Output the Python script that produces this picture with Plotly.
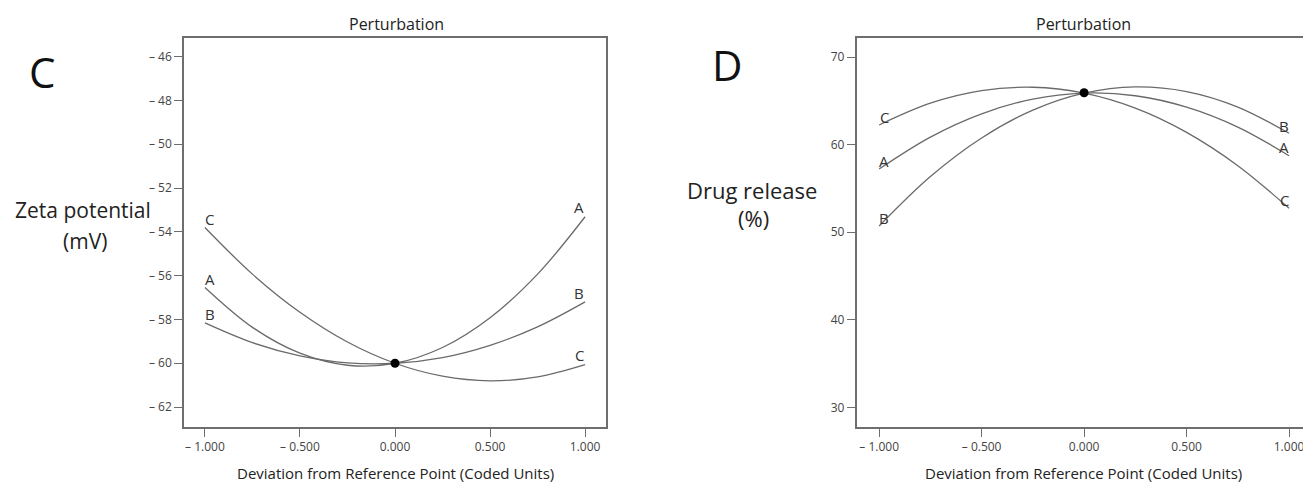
import plotly.graph_objects as go

W, H = 1303, 484

# ---------------- data ----------------
x_pts = [-1.0, -0.75, -0.5, -0.25, 0.0, 0.25, 0.5, 0.75, 1.0]

# Panel C: Zeta potential (mV)
zeta_A = [-56.54, -58.36, -59.54, -60.09, -60.0, -59.28, -57.92, -55.93, -53.31]
zeta_B = [-58.16, -59.06, -59.66, -59.98, -60.0, -59.74, -59.18, -58.34, -57.20]
zeta_C = [-53.80, -55.93, -57.67, -59.03, -60.0, -60.59, -60.80, -60.62, -60.06]
zeta_ref = -60.0

# Panel D: Drug release (%)
rel_A = [57.23, 60.88, 63.54, 65.22, 65.9, 65.60, 64.30, 62.02, 58.75]
rel_B = [50.72, 56.37, 60.78, 63.96, 65.9, 66.61, 66.08, 64.31, 61.31]
rel_C = [62.26, 64.75, 66.18, 66.57, 65.9, 64.19, 61.42, 57.61, 52.74]
rel_ref = 65.95

x_tickvals = [-1.0, -0.5, 0.0, 0.5, 1.0]
x_ticktext = ["\u2013 1.000", "\u2013 0.500", "0.000", "0.500", "1.000"]
zeta_tickvals = [-46, -48, -50, -52, -54, -56, -58, -60, -62]
zeta_ticktext = ["\u2013 46", "\u2013 48", "\u2013 50", "\u2013 52", "\u2013 54",
                 "\u2013 56", "\u2013 58", "\u2013 60", "\u2013 62"]
rel_tickvals = [30, 40, 50, 60, 70]
rel_ticktext = ["30", "40", "50", "60", "70"]

# curve end labels: (text, x, y)
zeta_labels = [("C", -0.975, -53.42), ("A", -0.975, -56.17), ("B", -0.975, -57.77),
               ("A", 0.968, -52.86), ("B", 0.968, -56.77), ("C", 0.968, -59.6)]
rel_labels = [("C", -0.975, 63.14), ("A", -0.975, 58.15), ("B", -0.975, 51.67),
              ("B", 0.977, 62.18), ("A", 0.977, 59.71), ("C", 0.977, 53.69)]

FONT = "Open Sans"
LINE_COL = "#6a6a6a"
AX_COL = "#6e6e6e"

fig = go.Figure()

for ys in (zeta_A, zeta_B, zeta_C):
    fig.add_trace(go.Scatter(x=x_pts, y=ys, mode="lines", line=dict(color=LINE_COL, width=1.3, shape="spline"),
                             xaxis="x", yaxis="y", showlegend=False, hoverinfo="skip"))
fig.add_trace(go.Scatter(x=[0.0], y=[zeta_ref], mode="markers", marker=dict(color="black", size=9),
                         xaxis="x", yaxis="y", showlegend=False))

for ys in (rel_A, rel_B, rel_C):
    fig.add_trace(go.Scatter(x=x_pts, y=ys, mode="lines", line=dict(color=LINE_COL, width=1.3, shape="spline"),
                             xaxis="x2", yaxis="y2", showlegend=False, hoverinfo="skip"))
fig.add_trace(go.Scatter(x=[0.0], y=[rel_ref], mode="markers", marker=dict(color="black", size=9),
                         xaxis="x2", yaxis="y2", showlegend=False))

def px(v):
    return v / W

def py(v):
    return 1 - v / H

ydom = [py(427), py(38)]

axis_common = dict(showgrid=False, zeroline=False, showline=True, linecolor=AX_COL, linewidth=1.5,
                   ticks="outside", ticklen=8, tickcolor=AX_COL, tickwidth=1.2,
                   tickfont=dict(family=FONT, size=12, color="#444"))

fig.update_layout(
    width=W, height=H,
    margin=dict(l=0, r=0, t=0, b=0),
    paper_bgcolor="white", plot_bgcolor="white",
    font=dict(family=FONT),
    xaxis=dict(domain=[px(184), px(606)], range=[-1.11, 1.11], tickvals=x_tickvals, ticktext=x_ticktext,
               mirror=True, anchor="y", **axis_common),
    yaxis=dict(domain=ydom, range=[-62.91, -45.15], tickvals=zeta_tickvals, ticktext=zeta_ticktext,
               mirror=True, anchor="x", **axis_common),
    xaxis2=dict(domain=[px(856.6), 1.0], range=[-1.11, 1.068], tickvals=x_tickvals, ticktext=x_ticktext,
                mirror=True, anchor="y2", ticklabeloverflow="allow", **axis_common),
    yaxis2=dict(domain=ydom, range=[27.75, 72.2], tickvals=rel_tickvals, ticktext=rel_ticktext,
                mirror=False, anchor="x2", **axis_common),
)

ann = []
for t, xx, yy in zeta_labels:
    ann.append(dict(text=t, x=xx, y=yy, xref="x", yref="y", showarrow=False,
                    font=dict(family=FONT, size=15, color="#333")))
for t, xx, yy in rel_labels:
    ann.append(dict(text=t, x=xx, y=yy, xref="x2", yref="y2", showarrow=False,
                    font=dict(family=FONT, size=15, color="#333")))

def pann(text, x, y, size, color="#222"):
    ann.append(dict(text=text, x=px(x), y=py(y), xref="paper", yref="paper", showarrow=False,
                    xanchor="center", yanchor="middle", font=dict(family=FONT, size=size, color=color)))

pann("Perturbation", 396, 24, 16)
pann("Perturbation", 1083, 24, 16)
pann("Deviation from Reference Point (Coded Units)", 395, 473, 15)
pann("Deviation from Reference Point (Coded Units)", 1083, 473, 15)
pann("C", 42, 71, 42, "#111")
pann("D", 727, 65, 42, "#111")
pann("Zeta potential", 83, 210, 21)
pann("(mV)", 85, 241, 21)
pann("Drug release", 752, 190, 22)
pann("(%)", 753, 218, 22)

fig.update_layout(annotations=ann)

fig.write_html("out.html")
